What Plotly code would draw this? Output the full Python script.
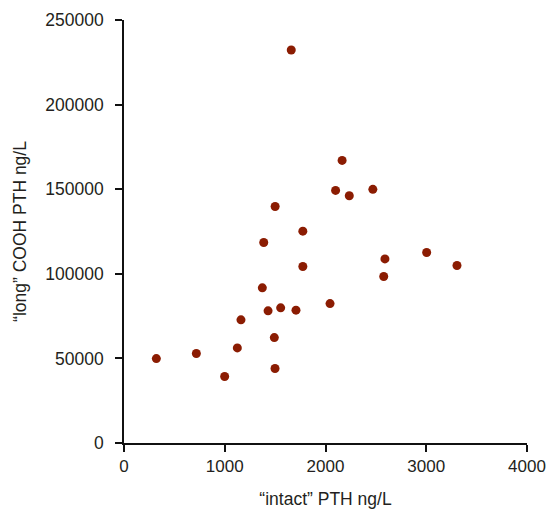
import plotly.graph_objects as go

intact_pth = [1660, 2165, 2100, 2236, 2470, 1500, 1775, 1387, 2590, 3004, 3305, 2578,
              1775, 1373, 1430, 1555, 1707, 2045, 1161, 1492, 1125, 321, 718, 999, 1499]
long_cooh_pth = [232300, 167000, 149300, 146100, 149900, 139800, 125200, 118500, 108800, 112600, 104900, 98400,
                 104300, 91700, 78100, 79900, 78500, 82400, 72800, 62300, 56200, 49900, 52900, 39300, 44000]

x_ticks = [0, 1000, 2000, 3000, 4000]
y_ticks = [0, 50000, 100000, 150000, 200000, 250000]

FONT = "Liberation Sans, Arial, sans-serif"
TXT = "#231f20"

fig = go.Figure(go.Scatter(
    x=intact_pth, y=long_cooh_pth, mode="markers",
    marker=dict(size=9, color="#8b1c02", line=dict(width=0)),
    showlegend=False, cliponaxis=False, hoverinfo="skip",
))

fig.update_layout(
    width=546, height=514,
    margin=dict(l=124, r=19, t=20, b=71),
    plot_bgcolor="white", paper_bgcolor="white",
    font=dict(family=FONT, size=17.5, color=TXT),
)
fig.update_xaxes(
    range=[0, 4000], tickvals=x_ticks, ticktext=[str(v) for v in x_ticks],
    showgrid=False, zeroline=False, showline=True, linecolor="#111", linewidth=1.5,
    ticks="outside", ticklen=7, tickwidth=1.5, tickcolor="#111", automargin=False,
    ticklabeloverflow="allow", tickfont=dict(size=17),
    title=dict(text="“intact” PTH ng/L", standoff=18, font=dict(size=17.5)),
)
fig.update_yaxes(
    range=[0, 250000], tickvals=y_ticks, ticktext=[str(v) for v in y_ticks],
    showgrid=False, zeroline=False, showline=True, linecolor="#111", linewidth=1.5,
    ticks="outside", ticklen=7, tickwidth=1.5, tickcolor="#111", automargin=False,
    ticklabelstandoff=8,
    title=dict(text="“long” COOH PTH ng/L", standoff=14, font=dict(size=17.5)),
)

fig.write_html("out.html", config={"displayModeBar": False},
               post_script="document.body.style.margin='0';document.body.style.padding='0';")
